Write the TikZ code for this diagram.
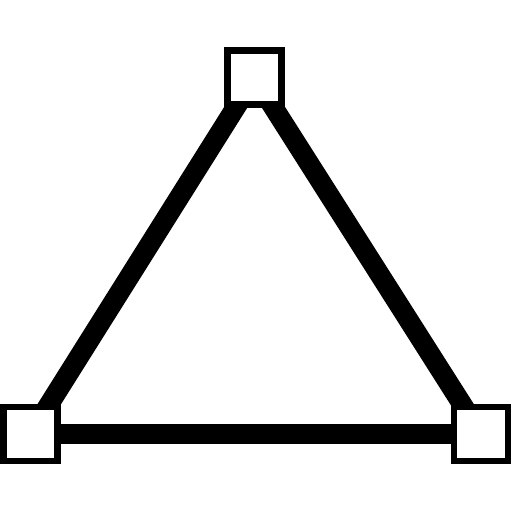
\documentclass[tikz,border=0pt]{standalone}
\usetikzlibrary{backgrounds}
\begin{document}
\begin{tikzpicture}[x=1pt,y=1pt,
  vbox/.style={draw=black,fill=white,rectangle,line width=6.7pt,minimum size=54pt,inner sep=0pt,outer sep=0pt},
  edge/.style={line width=20pt,black}]
\useasboundingbox (0,0) rectangle (512,512);
\node[vbox] (top) at (254.5,434.5) {};
\node[vbox] (left) at (30.5,78) {};
\node[vbox] (right) at (481,78) {};
\begin{pgfonlayer}{background}
\draw[edge] (top.center) -- (left.center);
\draw[edge] (top.center) -- (right.center);
\draw[edge] (left.center) -- (right.center);
\end{pgfonlayer}
\end{tikzpicture}
\end{document}
